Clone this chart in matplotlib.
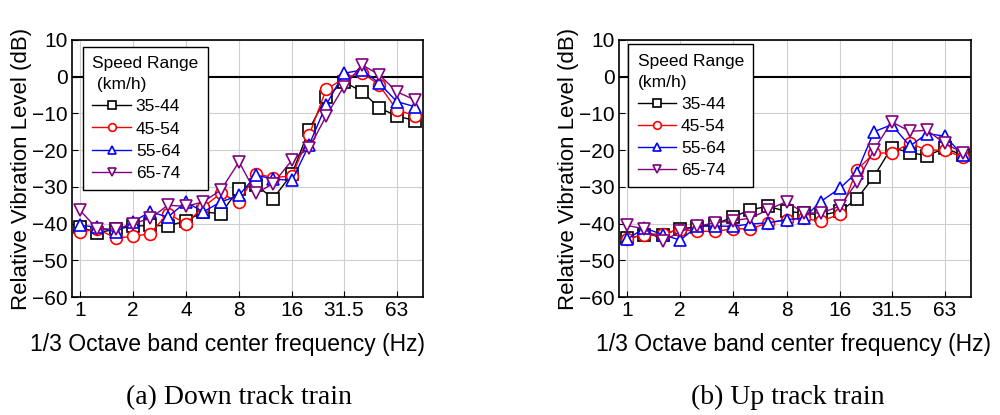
import numpy as np
import matplotlib
matplotlib.use('Agg')
import matplotlib.pyplot as plt

plt.rcParams['font.family'] = ['Liberation Sans', 'DejaVu Sans']

# 1/3 octave band centre frequencies (Hz)
freqs = [1, 1.25, 1.6, 2, 2.5, 3.15, 4, 5, 6.3, 8, 10, 12.5,
         16, 20, 25, 31.5, 40, 50, 63, 80]
tick_freqs = [1, 2, 4, 8, 16, 31.5, 63]
tick_labels = ['1', '2', '4', '8', '16', '31.5', '63']
speed_labels = ['35-44', '45-54', '55-64', '65-74']

# (a) Down track train
down_35 = [-40.9, -42.5, -41.5, -40.7, -40.5, -40.6, -39.3, -36.8, -37.3, -30.5,
           -29.5, -33.2, -26.4, -14.4, -5.5, -1.4, -4.1, -8.5, -10.7, -12.0]
down_45 = [-42.3, -41.5, -43.9, -43.5, -42.7, -37.3, -40.0, -35.5, -31.8, -34.1,
           -26.4, -27.5, -27.0, -15.9, -3.5, -0.5, 1.1, -2.3, -9.1, -10.6]
down_55 = [-40.5, -40.9, -42.3, -39.5, -36.8, -38.2, -34.1, -36.8, -34.1, -32.3,
           -26.8, -27.9, -28.2, -18.6, -7.7, 0.9, 1.8, -1.8, -6.8, -8.2]
down_65 = [-36.4, -41.4, -41.5, -40.0, -38.6, -35.0, -35.3, -34.1, -30.9, -23.2,
           -31.8, -29.1, -22.7, -19.5, -10.7, -2.7, 3.2, 0.5, -4.1, -6.4]

# (b) Up track train
up_35 = [-43.9, -43.2, -43.0, -41.4, -40.9, -40.1, -38.2, -36.2, -35.3, -36.7,
         -37.1, -37.7, -36.7, -33.3, -27.2, -19.3, -20.7, -21.5, -19.5, -21.4]
up_45 = [-44.1, -43.0, -42.7, -41.6, -42.1, -42.1, -41.4, -41.4, -39.8, -38.9,
         -38.5, -39.4, -37.4, -25.4, -20.9, -20.7, -18.2, -20.0, -20.0, -22.0]
up_55 = [-44.3, -41.2, -43.0, -44.5, -40.7, -40.7, -40.7, -40.1, -39.8, -38.9,
         -38.5, -34.0, -30.4, -26.1, -15.0, -13.1, -18.9, -15.5, -16.2, -21.4]
up_65 = [-40.5, -41.4, -44.8, -42.1, -40.7, -39.8, -39.2, -38.5, -36.2, -34.0,
         -37.1, -37.1, -35.3, -28.8, -20.0, -12.3, -14.9, -14.6, -18.2, -20.7]

colors = ['black', 'red', 'blue', 'purple']
markers = ['s', 'o', '^', 'v']


def draw_panel(ax, series, xlabel_x, leg_title, leg_anchor):
    for vals, lab, c, m in zip(series, speed_labels, colors, markers):
        ax.plot(freqs, vals, color=c, marker=m, markersize=8.5, lw=1.0,
                markerfacecolor='white', markeredgecolor=c, markeredgewidth=1.2,
                label=lab)
    ax.set_xscale('log')
    ax.set_xlim(0.9, 88.7)
    ax.set_ylim(-60, 10)
    ax.set_yticks(np.arange(-60, 11, 10))
    ax.set_xticks(tick_freqs)
    ax.set_xticklabels(tick_labels)
    ax.xaxis.set_minor_locator(matplotlib.ticker.NullLocator())
    ax.axhline(0, color='black', lw=1.5, zorder=1)
    ax.grid(True, color='#cfcfcf', lw=0.8)
    ax.set_axisbelow(True)
    ax.tick_params(direction='in', labelsize=15, length=4, pad=3)
    for sp in ax.spines.values():
        sp.set_linewidth(1.2)
    ax.set_ylabel('Relative Vibration Level (dB)', fontsize=16, labelpad=0)
    ax.set_xlabel('1/3 Octave band center frequency (Hz)', fontsize=16.5, labelpad=3)
    ax.xaxis.set_label_coords(xlabel_x, -0.14)
    leg = ax.legend(title=leg_title, loc='upper left',
                    bbox_to_anchor=leg_anchor, fontsize=12.5, title_fontsize=12.5,
                    frameon=True, fancybox=False, edgecolor='black',
                    framealpha=1, handlelength=2.2, borderpad=0.55,
                    labelspacing=0.4, handletextpad=0.3, borderaxespad=0,
                    markerscale=0.65)
    leg._legend_box.align = 'left'
    leg.get_title().set_linespacing(1.5)
    leg.get_frame().set_linewidth(1.0)


fig = plt.figure(figsize=(10, 4.15), dpi=100)
ax1 = fig.add_axes([0.072, 0.284, 0.351, 0.62])
ax2 = fig.add_axes([0.619, 0.284, 0.352, 0.62])

draw_panel(ax1, [down_35, down_45, down_55, down_65], 0.444,
           'Speed Range\n (km/h)', (0.031, 0.973))
draw_panel(ax2, [up_35, up_45, up_55, up_65], 0.497,
           'Speed Range\n(km/h)', (0.026, 0.984))

fig.text(0.2395, 0.043, '(a) Down track train', ha='center', va='center',
         fontsize=20, family='Liberation Serif')
fig.text(0.7875, 0.043, '(b) Up track train', ha='center', va='center',
         fontsize=20, family='Liberation Serif')

fig.savefig('out.png', dpi=100)
